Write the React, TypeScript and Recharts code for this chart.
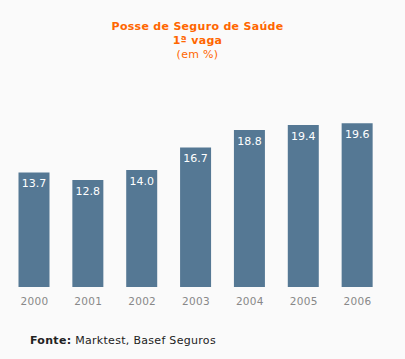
import React from "react";
import { BarChart, Bar, XAxis, YAxis, LabelList } from "recharts";

const years = ["2000", "2001", "2002", "2003", "2004", "2005", "2006"];
const values = [13.7, 12.8, 14.0, 16.7, 18.8, 19.4, 19.6];
const titleLines = ["Posse de Seguro de Saúde", "1ª vaga", "(em %)"];

const data = years.map((y, i) => ({ year: y, value: values[i] }));

const font = "Verdana, 'DejaVu Sans', sans-serif";

export default function App() {
  return (
    <div
      style={{
        position: "absolute",
        left: 0,
        top: 0,
        width: 405,
        height: 359,
        background: "#fafafa",
        fontFamily: font,
      }}
    >
      <div
        style={{
          position: "absolute",
          left: 0,
          width: 395,
          top: 20,
          textAlign: "center",
          color: "#ff6600",
          fontSize: 11,
          lineHeight: "14px",
          letterSpacing: 0.3,
        }}
      >
        <div style={{ fontWeight: "bold" }}>{titleLines[0]}</div>
        <div style={{ fontWeight: "bold" }}>{titleLines[1]}</div>
        <div>{titleLines[2]}</div>
      </div>
      <div style={{ position: "absolute", left: 0, top: 0 }}>
        <BarChart
          width={405}
          height={359}
          data={data}
          margin={{ top: 120, right: 20.5, left: 7.5, bottom: 52 }}
        >
          <XAxis
            dataKey="year"
            axisLine={false}
            tickLine={false}
            height={20}
            tick={{ fill: "#888888", fontSize: 10.5, fontFamily: font, dy: 3, letterSpacing: 0.3 }}
          />
          <YAxis hide domain={[0, 20]} width={0} />
          <Bar dataKey="value" fill="#557894" barSize={31} isAnimationActive={false}>
            <LabelList
              dataKey="value"
              position="insideTop"
              offset={7}
              formatter={(v: number) => v.toFixed(1)}
              style={{ fill: "#ffffff", fontSize: 11, fontFamily: font }}
            />
          </Bar>
        </BarChart>
      </div>
      <div
        style={{
          position: "absolute",
          left: 30,
          top: 334,
          fontSize: 11,
          color: "#222222",
          lineHeight: "14px",
          letterSpacing: 0.3,
        }}
      >
        <b>Fonte:</b> Marktest, Basef Seguros
      </div>
    </div>
  );
}
